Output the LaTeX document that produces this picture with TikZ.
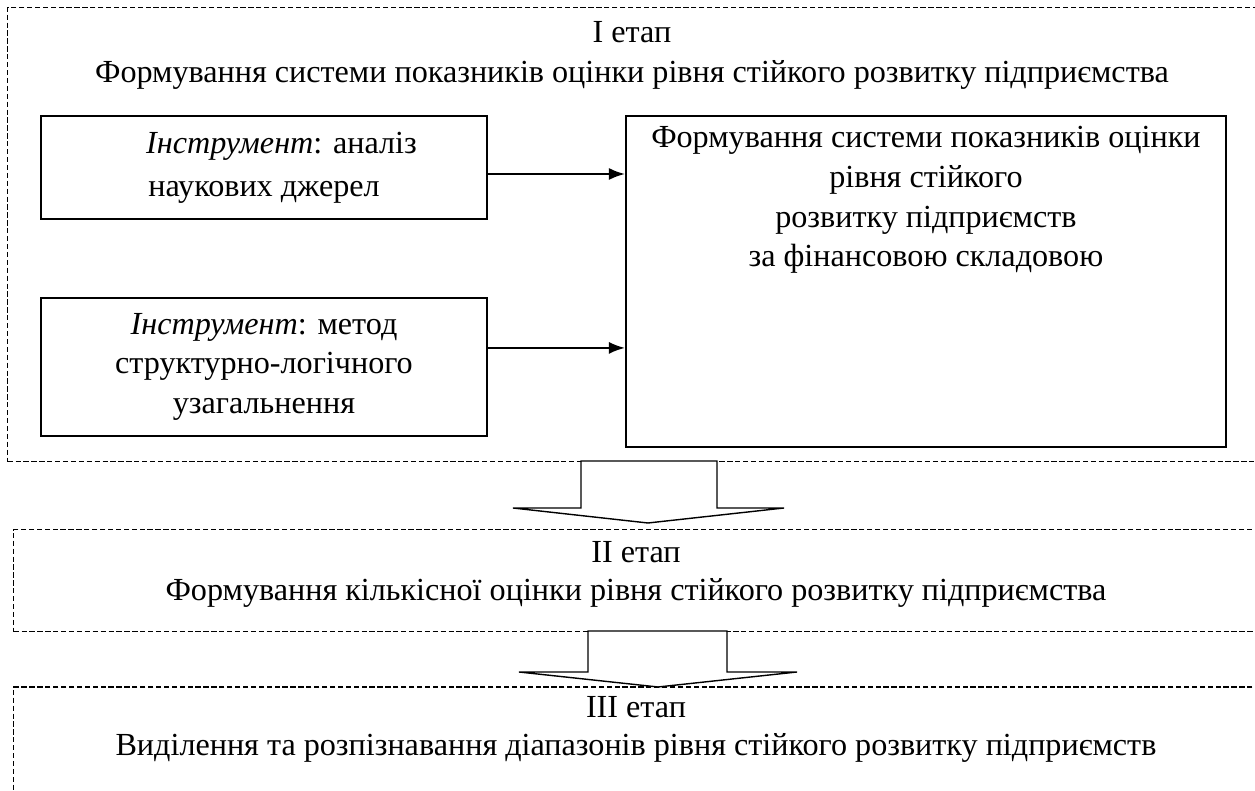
\documentclass[tikz,border=0pt]{standalone}
\usepackage{fontspec}
\setmainfont{Liberation Serif}
\usepackage{tikz}
\usetikzlibrary{positioning}
\usetikzlibrary{calc}
\usetikzlibrary{arrows.meta}
\tikzset{>={Latex[length=3.2mm,width=2.4mm]}}
\tikzset{
  stagebox/.style={draw, dash pattern=on 3pt off 1.5pt, line width=0.7pt,
    minimum width=25.36cm, anchor=north west, inner sep=0pt},
  toolbox/.style={draw, line width=1.1pt, align=center, minimum width=8.92cm},
  stagetitle/.style={align=center, anchor=north, inner sep=0pt},
  blockarrow/.style={draw, line width=0.8pt, fill=white},
}

\begin{document}
\begin{tikzpicture}[font=\fontsize{18.3}{22.6}\selectfont]
\useasboundingbox (0,0) rectangle (25.1,15.82);
\clip (0,0) rectangle (25.1,15.82);

  % Stage frames
  \node[stagebox, minimum height=9.08cm] (stage1) at (0.14,15.68) {};
  \node[stagebox, minimum height=2.04cm] (stage2) at (0.26,5.24) {};
  \node[stagebox, minimum height=3cm] (stage3) at (0.26,2.09) {};

  % Stage titles
  \node[stagetitle] (title1) at (12.64,15.40)
    {I етап\\Формування системи показників оцінки рівня стійкого розвитку підприємства};
  \node[stagetitle] (title2) at (12.72,5.0)
    {II етап\\[-1pt]Формування кількісної оцінки рівня стійкого розвитку підприємства};
  \node[stagetitle] (title3) at (12.72,1.90)
    {III етап\\[-1pt]Виділення та розпізнавання діапазонів рівня стійкого розвитку підприємств};

  % Tools of stage I
  \node[toolbox, minimum height=2.06cm] (tool1) at (5.28,12.47)
    {\hspace*{0.7cm}\textit{Інструмент}: аналіз\\[2pt]наукових джерел};
  \node[toolbox, minimum height=2.76cm, below=1.54cm of tool1] (tool2)
    {\textit{Інструмент}: метод\\структурно-логічного\\узагальнення};
  \node[draw, line width=1.1pt, minimum width=12cm, minimum height=6.62cm,
    right=2.74cm of tool1.north east, anchor=north west] (result) {};
  \node[stagetitle, below=0.22cm of result.north] (resulttext)
    {Формування системи показників оцінки\\рівня стійкого\\розвитку підприємств\\за фінансовою складовою};

  % Tool arrows
  \draw[->, line width=1.1pt] ([yshift=-0.13cm]tool1.east) -- ([yshift=-0.13cm]tool1.east -| result.west);
  \draw[->, line width=1.1pt] ([yshift=0.38cm]tool2.east) -- ([yshift=0.38cm]tool2.east -| result.west);

  % Block arrows between stages
  \draw[blockarrow] (11.62,6.60) -- (11.62,5.66) -- (10.26,5.66) -- (12.96,5.36)
    -- (15.68,5.66) -- (14.34,5.66) -- (14.34,6.60) -- cycle;
  \draw[blockarrow] (11.76,3.20) -- (11.76,2.38) -- (10.38,2.38) -- (13.16,2.08)
    -- (15.94,2.38) -- (14.54,2.38) -- (14.54,3.20) -- cycle;

\end{tikzpicture}
\end{document}
